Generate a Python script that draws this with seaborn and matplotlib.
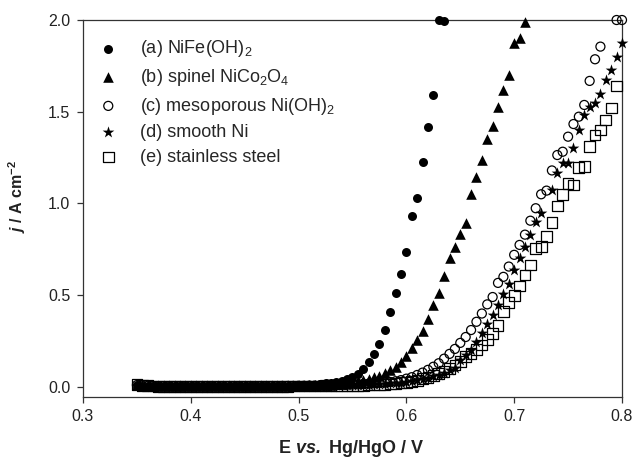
import numpy as np
import pandas as pd
import matplotlib
matplotlib.use('Agg')
import matplotlib.pyplot as plt
import seaborn as sns

# potential sweep, V vs Hg/HgO
E = [0.350, 0.355, 0.360, 0.365, 0.370, 0.375, 0.380, 0.385, 0.390, 0.395,
     0.400, 0.405, 0.410, 0.415, 0.420, 0.425, 0.430, 0.435, 0.440, 0.445,
     0.450, 0.455, 0.460, 0.465, 0.470, 0.475, 0.480, 0.485, 0.490, 0.495,
     0.500, 0.505, 0.510, 0.515, 0.520, 0.525, 0.530, 0.535, 0.540, 0.545,
     0.550, 0.555, 0.560, 0.565, 0.570, 0.575, 0.580, 0.585, 0.590, 0.595,
     0.600, 0.605, 0.610, 0.615, 0.620, 0.625, 0.630, 0.635, 0.640, 0.645,
     0.650, 0.655, 0.660, 0.665, 0.670, 0.675, 0.680, 0.685, 0.690, 0.695,
     0.700, 0.705, 0.710, 0.715, 0.720, 0.725, 0.730, 0.735, 0.740, 0.745,
     0.750, 0.755, 0.760, 0.765, 0.770, 0.775, 0.780, 0.785, 0.790, 0.795,
     0.800]

nan = np.nan

# current densities, A cm-2
j_nife = [0.008, 0.006, 0.005, 0.004, 0.004, 0.004, 0.003, 0.003, 0.003, 0.003,
          0.003, 0.003, 0.003, 0.003, 0.003, 0.003, 0.003, 0.003, 0.003, 0.003,
          0.003, 0.004, 0.004, 0.004, 0.004, 0.005, 0.005, 0.006, 0.006, 0.007,
          0.008, 0.009, 0.011, 0.013, 0.016, 0.019, 0.023, 0.028, 0.034, 0.043,
          0.055, 0.070, 0.096, 0.138, 0.180, 0.233, 0.310, 0.407, 0.514, 0.614,
          0.737, 0.930, 1.030, 1.228, 1.415, 1.590, 2.000, 1.995]

j_spinel = [0.010, 0.007, 0.006, 0.005, 0.004, 0.004, 0.004, 0.004, 0.004, 0.004,
            0.004, 0.004, 0.004, 0.004, 0.004, 0.004, 0.004, 0.004, 0.004, 0.004,
            0.004, 0.004, 0.004, 0.004, 0.004, 0.005, 0.005, 0.005, 0.006, 0.006,
            0.007, 0.007, 0.008, 0.009, 0.010, 0.011, 0.013, 0.015, 0.018, 0.022,
            0.026, 0.031, 0.037, 0.044, 0.052, 0.062, 0.074, 0.090, 0.110, 0.138,
            0.169, 0.211, 0.256, 0.305, 0.369, 0.447, 0.514, 0.605, 0.700, 0.761,
            0.834, 0.895, 1.050, 1.146, 1.237, 1.350, 1.420, 1.527, 1.620, 1.700,
            1.873, 1.900, 1.990]

j_meso = [0.010, 0.007, 0.006, 0.005, 0.004, 0.004, 0.004, 0.004, 0.004, 0.004,
          0.004, 0.004, 0.004, 0.004, 0.004, 0.004, 0.004, 0.004, 0.004, 0.004,
          0.004, 0.004, 0.004, 0.004, 0.004, 0.004, 0.004, 0.005, 0.005, 0.005,
          0.006, 0.006, 0.007, 0.007, 0.008, 0.008, 0.009, 0.010, 0.011, 0.012,
          0.013, 0.014, 0.016, 0.018, 0.020, 0.022, 0.024, 0.027, 0.031, 0.037,
          0.045, 0.053, 0.065, 0.078, 0.093, 0.110, 0.129, 0.154, 0.180, 0.207,
          0.240, 0.272, 0.310, 0.355, 0.400, 0.450, 0.490, 0.567, 0.600, 0.656,
          0.720, 0.774, 0.830, 0.906, 0.974, 1.050, 1.070, 1.180, 1.264, 1.282,
          1.364, 1.433, 1.473, 1.537, 1.668, 1.786, 1.855, nan, nan, 2.000,
          2.000]

j_ni = [0.010, 0.007, 0.006, 0.005, 0.004, 0.004, 0.004, 0.004, 0.004, 0.004,
        0.004, 0.004, 0.004, 0.004, 0.004, 0.004, 0.004, 0.004, 0.004, 0.004,
        0.004, 0.004, 0.004, 0.004, 0.004, 0.004, 0.004, 0.004, 0.005, 0.005,
        0.005, 0.005, 0.006, 0.006, 0.006, 0.007, 0.007, 0.008, 0.008, 0.009,
        0.010, 0.011, 0.012, 0.013, 0.014, 0.015, 0.017, 0.019, 0.021, 0.024,
        0.027, 0.031, 0.036, 0.042, 0.049, 0.057, 0.066, 0.077, 0.090, 0.105,
        0.147, 0.174, 0.200, 0.247, 0.296, 0.343, 0.392, 0.447, 0.505, 0.560,
        0.640, 0.700, 0.765, 0.828, 0.900, 0.947, nan, 1.074, 1.164, 1.220,
        1.220, 1.300, 1.400, 1.480, 1.527, 1.546, 1.595, 1.673, 1.727, 1.800,
        1.876]

j_steel = [0.012, 0.008, 0.006, 0.005, 0.004, 0.004, 0.004, 0.004, 0.004, 0.004,
           0.004, 0.004, 0.004, 0.004, 0.004, 0.004, 0.004, 0.004, 0.004, 0.004,
           0.004, 0.004, 0.004, 0.004, 0.004, 0.004, 0.004, 0.004, 0.004, 0.005,
           0.005, 0.005, 0.005, 0.005, 0.005, 0.006, 0.006, 0.006, 0.007, 0.007,
           0.008, 0.008, 0.009, 0.010, 0.011, 0.012, 0.014, 0.016, 0.019, 0.022,
           0.026, 0.031, 0.037, 0.044, 0.052, 0.061, 0.072, 0.085, 0.100, 0.120,
           0.138, 0.165, 0.184, 0.205, 0.229, 0.260, 0.292, 0.334, 0.410, 0.460,
           0.500, 0.550, 0.610, 0.665, 0.756, 0.765, 0.820, 0.895, 0.986, 1.050,
           1.110, 1.100, 1.195, 1.200, 1.310, 1.373, 1.400, 1.455, 1.520, 1.640]

labels = [r'(a) NiFe(OH)$_2$',
          r'(b) spinel NiCo$_2$O$_4$',
          r'(c) mesoporous Ni(OH)$_2$',
          '(d) smooth Ni',
          '(e) stainless steel']

sns.set_style('ticks')
plt.rcParams['font.family'] = ['Liberation Sans', 'DejaVu Sans']
plt.rcParams['mathtext.fontset'] = 'custom'
plt.rcParams['mathtext.rm'] = 'Liberation Sans'
plt.rcParams['mathtext.it'] = 'Liberation Sans:italic'
plt.rcParams['mathtext.bf'] = 'Liberation Sans:bold'
plt.rcParams['mathtext.bfit'] = 'Liberation Sans:italic:bold'

fig = plt.figure(figsize=(6.35, 4.72), dpi=100)
ax = fig.add_axes([0.1307, 0.1589, 0.8488, 0.7987])

series = [
    (j_nife, dict(marker='o', s=42, color='black', linewidth=0)),
    (j_spinel, dict(marker='^', s=58, color='black', linewidth=0)),
    (j_meso, dict(marker='o', s=42, facecolor='none', edgecolor='black', linewidth=0.9)),
    (j_ni, dict(marker='*', s=78, color='black', linewidth=0)),
    (j_steel, dict(marker='s', s=60, facecolor='none', edgecolor='black', linewidth=0.9)),
]

for (vals, kw), lab in zip(series, labels):
    sns.scatterplot(x=E[:len(vals)], y=vals, ax=ax, label=lab, clip_on=False,
                    zorder=3, **kw)

ax.set_xlim(0.3, 0.8)
ax.set_ylim(-0.055, 2.0)
ax.set_xticks([0.3, 0.4, 0.5, 0.6, 0.7, 0.8])
ax.set_yticks([0.0, 0.5, 1.0, 1.5, 2.0])
ax.xaxis.set_major_formatter(matplotlib.ticker.FormatStrFormatter('%.1f'))
ax.yaxis.set_major_formatter(matplotlib.ticker.FormatStrFormatter('%.1f'))

for sp in ax.spines.values():
    sp.set_visible(True)
    sp.set_color('#333333')
    sp.set_linewidth(0.9)
ax.tick_params(axis='both', direction='out', length=4.5, width=0.9,
               color='#333333', labelsize=11.5, labelcolor='#222222', pad=4.5)

ax.set_xlabel(r'E $\mathbfit{vs.}$ Hg/HgO / V', fontsize=13,
              fontweight='bold', color='#222222')
ax.set_ylabel(r'$\mathbfit{j}$ / A cm$^{\mathbf{-2}}$', fontsize=11.5,
              fontweight='bold', color='#222222')
ax.xaxis.set_label_coords(0.497, -0.11)
ax.yaxis.set_label_coords(-0.102, 0.533)

ax.legend(loc='upper left', bbox_to_anchor=(0.0, 0.975), frameon=False,
          fontsize=13, handlelength=1.8, handletextpad=0.86, labelspacing=0.42,
          borderaxespad=0.1)

fig.savefig('out.png', dpi=100)
